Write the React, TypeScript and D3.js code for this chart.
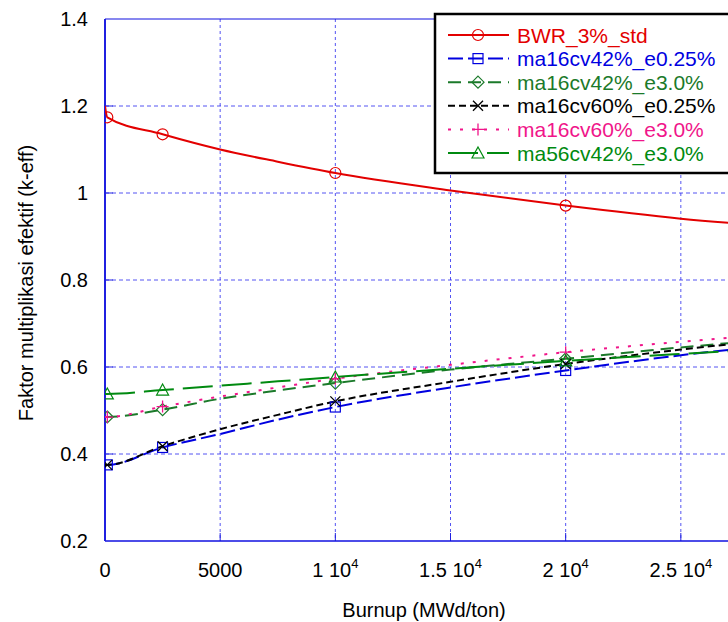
import React, { useEffect, useRef } from "react";
import * as d3 from "d3";

const burnup = [0, 100, 2500, 5000, 7500, 10000, 15000, 20000, 25000, 30000];
const bwrStd = [1.2, 1.174, 1.135, 1.1, 1.072, 1.046, 1.006, 0.971, 0.941, 0.92];
const ma16cv42e025 = [0.375, 0.375, 0.415, 0.446, 0.479, 0.508, 0.553, 0.592, 0.627, 0.655];
const ma16cv42e30 = [0.485, 0.485, 0.502, 0.527, 0.546, 0.563, 0.594, 0.619, 0.645, 0.668];
const ma16cv60e025 = [0.375, 0.375, 0.418, 0.457, 0.49, 0.521, 0.566, 0.607, 0.64, 0.668];
const ma16cv60e30 = [0.485, 0.485, 0.509, 0.532, 0.553, 0.573, 0.605, 0.634, 0.658, 0.68];
const ma56cv42e30 = [0.538, 0.538, 0.547, 0.557, 0.567, 0.577, 0.596, 0.614, 0.63, 0.645];
const markerIdx = [1, 2, 5, 7, 9];

const xTicks = [0, 5000, 10000, 15000, 20000, 25000];
const xTickMant = ["0", "5000", "1", "1.5", "2", "2.5"];
const xTickExp = ["", "", "4", "4", "4", "4"];
const yTicks = [0.2, 0.4, 0.6, 0.8, 1.0, 1.2, 1.4];
const yTickLabels = ["0.2", "0.4", "0.6", "0.8", "1", "1.2", "1.4"];

type Series = { name: string; values: number[]; color: string; dash: string; marker: string; width: number };
const series: Series[] = [
  { name: "BWR_3%_std", values: bwrStd, color: "#e30000", dash: "", marker: "circle", width: 2 },
  { name: "ma16cv42%_e0.25%", values: ma16cv42e025, color: "#0000e0", dash: "15,5", marker: "square", width: 2 },
  { name: "ma16cv42%_e3.0%", values: ma16cv42e30, color: "#1b7a2a", dash: "13,7", marker: "diamond", width: 2 },
  { name: "ma16cv60%_e0.25%", values: ma16cv60e025, color: "#000000", dash: "7,4", marker: "x", width: 2 },
  { name: "ma16cv60%_e3.0%", values: ma16cv60e30, color: "#f0158a", dash: "3,9", marker: "plus", width: 2 },
  { name: "ma56cv42%_e3.0%", values: ma56cv42e30, color: "#008a10", dash: "30,9", marker: "triangle", width: 2 },
];

const W = 728, H = 622;
const left = 105, right = 796, top = 19, bottom = 541;

function drawMarker(g: any, type: string, x: number, y: number, color: string) {
  const s = 5;
  if (type === "circle") g.append("circle").attr("cx", x).attr("cy", y).attr("r", s + 0.5).attr("fill", "none").attr("stroke", color).attr("stroke-width", 1.2);
  else if (type === "square") g.append("rect").attr("x", x - s).attr("y", y - s).attr("width", 2 * s).attr("height", 2 * s).attr("fill", "none").attr("stroke", color).attr("stroke-width", 1.2);
  else if (type === "diamond") g.append("path").attr("d", `M${x},${y - s - 1}L${x + s + 1},${y}L${x},${y + s + 1}L${x - s - 1},${y}Z`).attr("fill", "none").attr("stroke", color).attr("stroke-width", 1.2);
  else if (type === "triangle") g.append("path").attr("d", `M${x},${y - s - 1}L${x + s + 1},${y + s}L${x - s - 1},${y + s}Z`).attr("fill", "none").attr("stroke", color).attr("stroke-width", 1.2);
  else if (type === "x") g.append("path").attr("d", `M${x - s},${y - s}L${x + s},${y + s}M${x + s},${y - s}L${x - s},${y + s}`).attr("stroke", color).attr("stroke-width", 1.3);
  else if (type === "plus") g.append("path").attr("d", `M${x - s - 1},${y}L${x + s + 1},${y}M${x},${y - s - 1}L${x},${y + s + 1}`).attr("stroke", color).attr("stroke-width", 1.3);
}

export default function App() {
  const ref = useRef<SVGSVGElement>(null);
  useEffect(() => {
    const svg = d3.select(ref.current);
    svg.selectAll("*").remove();
    const x = d3.scaleLinear().domain([0, 30000]).range([left, right]);
    const y = d3.scaleLinear().domain([0.2, 1.4]).range([bottom, top]);
    const font = "Liberation Sans, Arial, sans-serif";

    svg.append("defs").append("clipPath").attr("id", "plotclip").append("rect")
      .attr("x", left).attr("y", top).attr("width", right - left).attr("height", bottom - top);

    // grid
    const grid = svg.append("g");
    xTicks.slice(1).forEach((t) => {
      grid.append("line").attr("x1", x(t)).attr("x2", x(t)).attr("y1", top).attr("y2", bottom)
        .attr("stroke", "#2a2af0").attr("stroke-width", 1).attr("stroke-dasharray", "3,3").attr("opacity", 0.8);
      grid.append("line").attr("x1", x(t)).attr("x2", x(t)).attr("y1", bottom - 8).attr("y2", bottom)
        .attr("stroke", "#2020e0").attr("stroke-width", 1);
    });
    yTicks.slice(1, -1).forEach((t) => {
      grid.append("line").attr("x1", left).attr("x2", right).attr("y1", y(t)).attr("y2", y(t))
        .attr("stroke", "#2a2af0").attr("stroke-width", 1).attr("stroke-dasharray", "4,3").attr("opacity", 0.8);
      grid.append("line").attr("x1", left).attr("x2", left + 8).attr("y1", y(t)).attr("y2", y(t))
        .attr("stroke", "#2020e0").attr("stroke-width", 1);
    });
    // frame
    svg.append("line").attr("x1", left).attr("x2", right).attr("y1", top).attr("y2", top).attr("stroke", "#1010e0").attr("stroke-width", 1.2);
    svg.append("line").attr("x1", left).attr("x2", right).attr("y1", bottom).attr("y2", bottom).attr("stroke", "#1010e0").attr("stroke-width", 1.5);
    svg.append("line").attr("x1", left).attr("x2", left).attr("y1", top).attr("y2", bottom).attr("stroke", "#2020e0").attr("stroke-width", 2);

    // tick labels
    yTicks.forEach((t, i) => {
      svg.append("text").attr("x", 88).attr("y", y(t) + 7).attr("text-anchor", "end")
        .attr("font-family", font).attr("font-size", 20).attr("fill", "#000").text(yTickLabels[i]);
    });
    xTicks.forEach((t, i) => {
      const tx = svg.append("text").attr("x", x(t)).attr("y", 577).attr("text-anchor", "middle")
        .attr("font-family", font).attr("font-size", 20).attr("fill", "#000");
      if (xTickExp[i]) {
        tx.append("tspan").text(xTickMant[i] + " 10");
        tx.append("tspan").attr("dy", -9).attr("font-size", 13).text(xTickExp[i]);
      } else tx.text(xTickMant[i]);
    });
    svg.append("text").attr("x", 424).attr("y", 617).attr("text-anchor", "middle")
      .attr("font-family", font).attr("font-size", 20).attr("fill", "#000").text("Burnup (MWd/ton)");
    svg.append("text").attr("transform", "translate(33,283) rotate(-90)").attr("text-anchor", "middle")
      .attr("font-family", font).attr("font-size", 20).attr("fill", "#000").text("Faktor multiplikasi efektif (k-eff)");

    // lines
    const plot = svg.append("g").attr("clip-path", "url(#plotclip)");
    const line = d3.line<number>().x((_, i) => x(burnup[i])).y((d) => y(d)).curve(d3.curveMonotoneX);
    series.forEach((s) => {
      plot.append("path").attr("d", line(s.values)).attr("fill", "none").attr("stroke", s.color)
        .attr("stroke-width", s.width).attr("stroke-dasharray", s.dash || null);
    });
    series.forEach((s) => {
      markerIdx.forEach((i) => drawMarker(plot, s.marker, x(burnup[i]), y(s.values[i]), s.color));
    });

    // legend
    const lg = svg.append("g");
    lg.append("rect").attr("x", 435).attr("y", 14).attr("width", 400).attr("height", 159)
      .attr("fill", "#fff").attr("stroke", "#000").attr("stroke-width", 2.5);
    series.forEach((s, i) => {
      const yy = 35 + i * 23.6;
      lg.append("line").attr("x1", 448).attr("x2", 509).attr("y1", yy).attr("y2", yy)
        .attr("stroke", s.color).attr("stroke-width", s.width).attr("stroke-dasharray", s.dash || null);
      drawMarker(lg, s.marker, 478, yy, s.color);
      lg.append("text").attr("x", 517).attr("y", yy + 7.5).attr("font-family", font).attr("font-size", 21)
        .attr("fill", s.color).text(s.name);
    });
  }, []);
  return <svg ref={ref} width={W} height={H} style={{ position: "absolute", left: 0, top: 0, background: "#fff" }} />;
}
